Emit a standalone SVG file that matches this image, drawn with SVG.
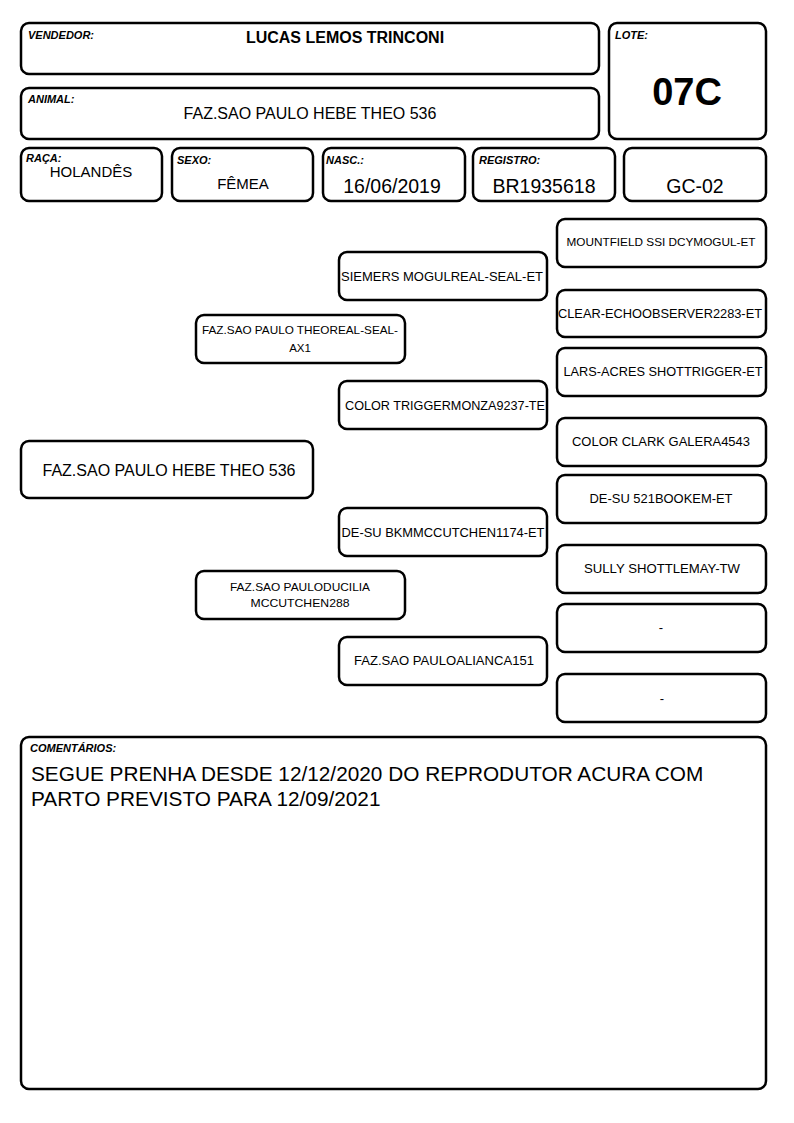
<svg xmlns="http://www.w3.org/2000/svg" width="794" height="1123" viewBox="0 0 794 1123">
<style>
.b{fill:#fff;stroke:#000;stroke-width:2.5}
.l{font-family:"Liberation Sans",Arial,sans-serif;font-size:11px;font-weight:bold;font-style:italic}
.t{font-family:"Liberation Sans",Arial,sans-serif;fill:#000;text-anchor:middle}
.p{font-family:"Liberation Sans",Arial,sans-serif;font-size:13px;text-anchor:middle}
.s{font-family:"Liberation Sans",Arial,sans-serif;font-size:11.5px;text-anchor:middle}
.c{font-family:"Liberation Sans",Arial,sans-serif;font-size:20.8px}
</style>
<rect width="794" height="1123" fill="#fff"/>
<g id="vendedor"><rect class="b" x="21" y="23" width="578" height="51" rx="8"/><text class="l" x="28" y="39">VENDEDOR:</text><text class="t" x="345" y="43" font-size="16" font-weight="bold">LUCAS LEMOS TRINCONI</text></g>
<g id="animal"><rect class="b" x="21" y="88" width="578" height="51" rx="8"/><text class="l" x="28" y="103">ANIMAL:</text><text class="t" x="310" y="119" font-size="16">FAZ.SAO PAULO HEBE THEO 536</text></g>
<g id="lote"><rect class="b" x="609" y="23" width="157" height="116" rx="8"/><text class="l" x="615" y="39">LOTE:</text><text class="t" x="687" y="105" font-size="38" font-weight="bold">07C</text></g>
<g id="raca"><rect class="b" x="21" y="148" width="141" height="53" rx="8"/><text class="l" x="26" y="162">RAÇA:</text><text class="t" x="91" y="177" font-size="15">HOLANDÊS</text></g>
<g id="sexo"><rect class="b" x="172" y="148" width="141" height="53" rx="8"/><text class="l" x="177" y="164">SEXO:</text><text class="t" x="243" y="189" font-size="15">FÊMEA</text></g>
<g id="nasc"><rect class="b" x="323" y="148" width="142" height="53" rx="8"/><text class="l" x="326" y="164">NASC.:</text><text class="t" x="392" y="193" font-size="19.5">16/06/2019</text></g>
<g id="registro"><rect class="b" x="473" y="148" width="142" height="53" rx="8"/><text class="l" x="479" y="164">REGISTRO:</text><text class="t" x="544" y="193" font-size="19.5">BR1935618</text></g>
<g id="gc"><rect class="b" x="624" y="148" width="142" height="53" rx="8"/><text class="t" x="695" y="193" font-size="19.5">GC-02</text></g>

<g id="mountfield"><rect class="b" x="557" y="219" width="209" height="48" rx="8"/><text class="s" x="661" y="246" textLength="189" lengthAdjust="spacingAndGlyphs">MOUNTFIELD SSI DCYMOGUL-ET</text></g>
<g id="siemers"><rect class="b" x="339" y="252" width="208" height="48" rx="8"/><text class="p" x="442" y="281" textLength="202" lengthAdjust="spacingAndGlyphs">SIEMERS MOGULREAL-SEAL-ET</text></g>
<g id="clearecho"><rect class="b" x="557" y="290" width="209" height="47" rx="8"/><text class="p" x="660" y="318" textLength="204" lengthAdjust="spacingAndGlyphs">CLEAR-ECHOOBSERVER2283-ET</text></g>
<g id="theo"><rect class="b" x="196" y="315" width="209" height="48" rx="8"/><text class="s" x="300" y="334" textLength="196" lengthAdjust="spacingAndGlyphs">FAZ.SAO PAULO THEOREAL-SEAL-</text><text class="s" x="300" y="352">AX1</text></g>
<g id="lars"><rect class="b" x="557" y="348" width="209" height="48" rx="8"/><text class="p" x="663" y="376" textLength="199" lengthAdjust="spacingAndGlyphs">LARS-ACRES SHOTTRIGGER-ET</text></g>
<g id="colortrigger"><rect class="b" x="339" y="381" width="208" height="48" rx="8"/><text class="p" x="445" y="410" textLength="200" lengthAdjust="spacingAndGlyphs">COLOR TRIGGERMONZA9237-TE</text></g>
<g id="colorclark"><rect class="b" x="557" y="418" width="209" height="48" rx="8"/><text class="p" x="661" y="446" textLength="178" lengthAdjust="spacingAndGlyphs">COLOR CLARK GALERA4543</text></g>
<g id="hebe"><rect class="b" x="21" y="441" width="292" height="57" rx="8"/><text class="t" x="169" y="476" font-size="16" textLength="253" lengthAdjust="spacingAndGlyphs">FAZ.SAO PAULO HEBE THEO 536</text></g>
<g id="desu521"><rect class="b" x="557" y="475" width="209" height="48" rx="8"/><text class="p" x="661" y="503" textLength="143" lengthAdjust="spacingAndGlyphs">DE-SU 521BOOKEM-ET</text></g>
<g id="desubkm"><rect class="b" x="339" y="508" width="208" height="48" rx="8"/><text class="p" x="443" y="537" textLength="203" lengthAdjust="spacingAndGlyphs">DE-SU BKMMCCUTCHEN1174-ET</text></g>
<g id="sully"><rect class="b" x="557" y="545" width="209" height="48" rx="8"/><text class="p" x="662" y="573" textLength="156" lengthAdjust="spacingAndGlyphs">SULLY SHOTTLEMAY-TW</text></g>
<g id="ducilia"><rect class="b" x="196" y="571" width="209" height="48" rx="8"/><text class="s" x="300" y="591" textLength="140" lengthAdjust="spacingAndGlyphs">FAZ.SAO PAULODUCILIA</text><text class="s" x="300" y="607" textLength="99" lengthAdjust="spacingAndGlyphs">MCCUTCHEN288</text></g>
<g id="dash1"><rect class="b" x="557" y="604" width="209" height="48" rx="8"/><text class="p" x="661" y="632">-</text></g>
<g id="alianca"><rect class="b" x="339" y="637" width="208" height="48" rx="8"/><text class="p" x="444" y="665" textLength="180" lengthAdjust="spacingAndGlyphs">FAZ.SAO PAULOALIANCA151</text></g>
<g id="dash2"><rect class="b" x="557" y="674" width="209" height="48" rx="8"/><text class="p" x="662" y="703">-</text></g>

<g id="comentarios"><rect class="b" x="21" y="737" width="745" height="352" rx="8"/><text class="l" x="30" y="752">COMENTÁRIOS:</text><text class="c" x="31" y="781">SEGUE PRENHA DESDE 12/12/2020 DO REPRODUTOR ACURA COM</text><text class="c" x="31" y="806">PARTO PREVISTO PARA 12/09/2021</text></g>
<g id="connectors"/>
</svg>
